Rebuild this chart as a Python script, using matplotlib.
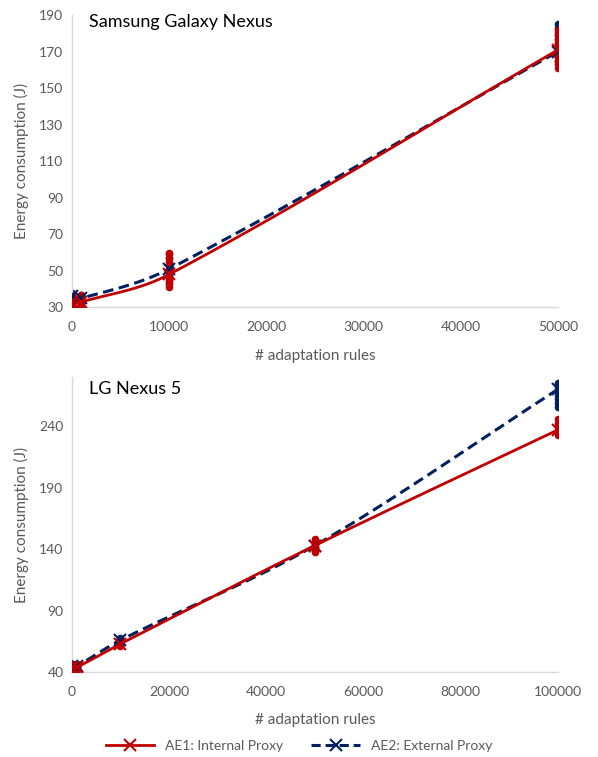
#!/usr/bin/env python3

import numpy as np
import matplotlib
matplotlib.use("Agg")
import matplotlib.pyplot as plt

plt.rcParams["font.family"] = ["Lato", "DejaVu Sans"]

RED = "#c00000"
BLUE = "#002060"
GRAY = "#595959"

# ---- Samsung Galaxy Nexus ----
S_X = [0, 1000, 10000, 50000]
S_AE1_MEAN = [33, 33, 48, 171]
S_AE2_MEAN = [36, 35, 51, 170]
S_AE1_PTS = [
    [30, 31, 32, 33, 34, 35, 36],
    [30, 31, 32, 33, 34, 35, 36, 37],
    [41, 43, 45, 47, 49, 51, 53, 55, 57, 59, 60],
    [161, 163, 165, 167, 169, 171, 173, 175, 177, 179, 182],
]
S_AE2_PTS = [
    [33, 34, 35, 36, 37, 38],
    [33, 34, 35, 36, 37],
    [44, 47, 50, 53, 57],
    [165, 167, 169, 171, 173, 175, 177, 179, 181, 183, 185],
]

# ---- LG Nexus 5 ----
L_X = [0, 1000, 10000, 50000, 100000]
L_AE1_MEAN = [44, 44, 63, 143, 237]
L_AE2_MEAN = [45, 45, 66, 143, 270]
L_AE1_PTS = [
    [42, 43, 44, 45, 46, 47],
    [42, 43, 44, 45, 46],
    [61, 62, 63, 64, 65],
    [138, 140, 142, 144, 146, 148],
    [233, 235, 237, 239, 241, 243, 246],
]
L_AE2_PTS = [
    [43, 44, 45, 46, 47],
    [43, 44, 45, 46, 47],
    [64, 65, 66, 67, 68],
    [140, 142, 144, 146],
    [256, 259, 262, 265, 268, 271, 275],
]


def smooth(x, y, n=40):
    # cubic Hermite with central-difference slopes (smoothed line look)
    x = np.asarray(x, float)
    y = np.asarray(y, float)
    h = np.diff(x)
    d = np.diff(y) / h
    m = np.zeros_like(y)
    m[0], m[-1] = d[0], d[-1]
    for i in range(1, len(x) - 1):
        m[i] = (y[i + 1] - y[i - 1]) / (x[i + 1] - x[i - 1])
    ox, oy = [], []
    t = np.linspace(0, 1, n)
    h00 = 2 * t ** 3 - 3 * t ** 2 + 1
    h10 = t ** 3 - 2 * t ** 2 + t
    h01 = -2 * t ** 3 + 3 * t ** 2
    h11 = t ** 3 - t ** 2
    for i in range(len(x) - 1):
        ox.extend(x[i] + t * h[i])
        oy.extend(h00 * y[i] + h10 * h[i] * m[i] + h01 * y[i + 1] + h11 * h[i] * m[i + 1])
    return ox, oy


def draw(ax, xs, m1, m2, p1, p2, title, ylim, yticks, xticks):
    for x, pts in zip(xs, p2):
        ax.plot([x] * len(pts), pts, "o", color=BLUE, ms=4.5, zorder=2)
    for x, pts in zip(xs, p1):
        ax.plot([x] * len(pts), pts, "o", color=RED, ms=4.5, zorder=3)

    sx, sy = smooth(xs, m2)
    ax.plot(sx, sy, "--", color=BLUE, lw=2.2, dashes=(3.5, 1.8), zorder=4)
    ax.plot(xs, m2, "x", color=BLUE, ms=9, mew=1.5, zorder=5)
    sx, sy = smooth(xs, m1)
    ax.plot(sx, sy, "-", color=RED, lw=2.0, zorder=6)
    ax.plot(xs, m1, "x", color=RED, ms=9, mew=1.5, zorder=7)

    ax.set_ylim(*ylim)
    ax.set_yticks(yticks)
    ax.set_xlim(0, xticks[-1])
    ax.set_xticks(xticks)
    for side in ("top", "right"):
        ax.spines[side].set_visible(False)
    for side in ("left", "bottom"):
        ax.spines[side].set_color("#d9d9d9")
        ax.spines[side].set_linewidth(1.0)
    ax.tick_params(axis="y", length=0, labelsize=10, labelcolor=GRAY, pad=6)
    ax.tick_params(axis="x", length=0, labelsize=10, labelcolor=GRAY, pad=10)
    ax.set_xlabel("# adaptation rules", fontsize=11, color=GRAY, labelpad=11)
    ax.set_ylabel("Energy consumption (J)", fontsize=11, color=GRAY, labelpad=7)
    ax.text(0.035, 1.0, title, transform=ax.transAxes, fontsize=13,
            va="center", ha="left", color="black")


fig = plt.figure(figsize=(5.98, 7.57), dpi=100)

ax1 = fig.add_axes([0.120, 0.594, 0.813, 0.386])
draw(ax1, S_X, S_AE1_MEAN, S_AE2_MEAN, S_AE1_PTS, S_AE2_PTS,
     "Samsung Galaxy Nexus", (30, 190), np.arange(30, 191, 20),
     [0, 10000, 20000, 30000, 40000, 50000])
ax1.texts[0].set_position((0.035, 0.975))

ax2 = fig.add_axes([0.120, 0.112, 0.813, 0.390])
draw(ax2, L_X, L_AE1_MEAN, L_AE2_MEAN, L_AE1_PTS, L_AE2_PTS,
     "LG Nexus 5", (40, 280), np.arange(40, 241, 50),
     [0, 20000, 40000, 60000, 80000, 100000])
ax2.texts[0].set_position((0.035, 0.96))

h1, = ax2.plot([], [], "-x", color=RED, lw=2.0, ms=9, mew=1.5)
h2, = ax2.plot([], [], "--x", color=BLUE, lw=2.2, dashes=(3, 1.6), ms=9, mew=1.5)
leg = fig.legend([h1, h2], ["AE1: Internal Proxy", "AE2: External Proxy"],
                 loc="center", bbox_to_anchor=(0.5, 0.015), ncol=2,
                 frameon=False, fontsize=10, handlelength=3.5, columnspacing=2.0)
for t in leg.get_texts():
    t.set_color(GRAY)

fig.savefig("out.png", dpi=100)
